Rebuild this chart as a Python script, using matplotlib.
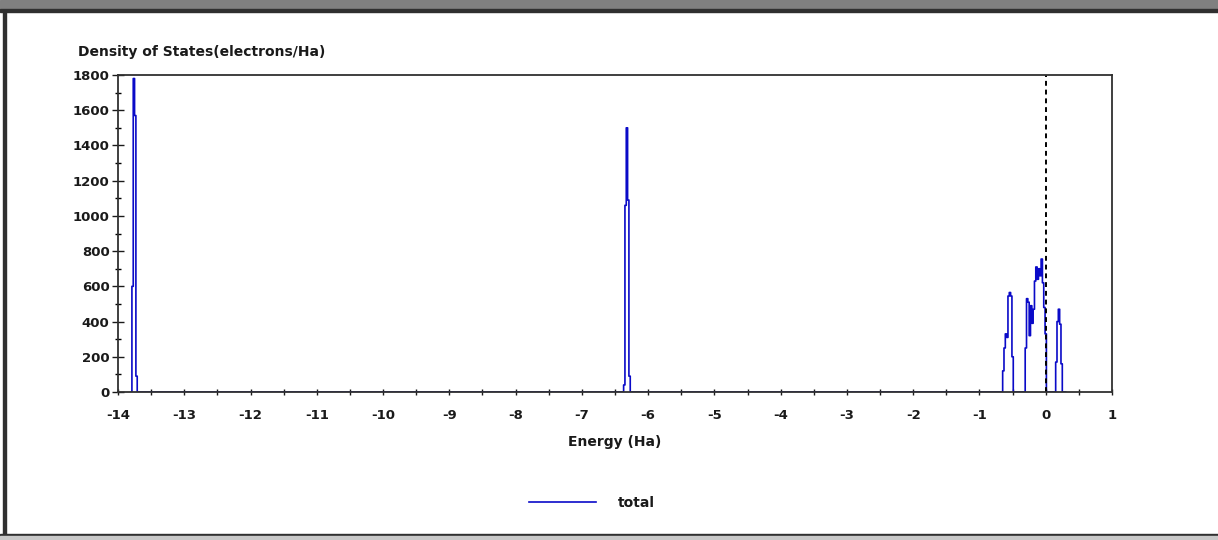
import numpy as np
import matplotlib.pyplot as plt
from matplotlib.patches import Rectangle
from matplotlib.ticker import MultipleLocator

plt.rcParams['font.family'] = ['DejaVu Sans']
plt.rcParams['axes.unicode_minus'] = False

# DOS: bins of 0.02 Ha, each segment = (first energy, values)
bin_w = 0.02
e_min, e_max = -13.80, 0.30
seg_core1 = (-13.78, [600, 1780, 1570, 90])
seg_core2 = (-6.36, [40, 1060, 1500, 1090, 90])
seg_val1 = (-0.64, [120, 250, 330, 310, 545, 565, 545, 200])
seg_val2 = (-0.30, [250, 530, 510, 320, 490, 390, 470, 630, 710, 640,
                    700, 660, 755, 620, 480, 330])
seg_cond = (0.16, [170, 400, 470, 385, 160])
segments = [seg_core1, seg_core2, seg_val1, seg_val2, seg_cond]

fermi = 0.0
x_ticks = list(range(-14, 2))
y_ticks = list(range(0, 2000, 200))

energy = np.round(np.arange(e_min, e_max + 1e-9, bin_w), 2)
dos = np.zeros_like(energy)
for start, vals in segments:
    i0 = int(round((start - e_min) / bin_w))
    dos[i0:i0 + len(vals)] = vals

fig = plt.figure(figsize=(12.18, 5.4), dpi=100)
W, H = 1218, 540
txt = '#1a1a1a'

# window frame around the chart
fig.patches.append(Rectangle((0, 1 - 10 / H), 1, 10 / H, transform=fig.transFigure,
                             color='#808080', zorder=0))
fig.patches.append(Rectangle((0, 1 - 12 / H), 1, 2.5 / H, transform=fig.transFigure,
                             color='#303030', zorder=0))
fig.patches.append(Rectangle((3 / W, 0), 2.5 / W, 1 - 10 / H, transform=fig.transFigure,
                             color='#303030', zorder=0))
fig.patches.append(Rectangle((0, 4 / H), 1, 2.5 / H, transform=fig.transFigure,
                             color='#303030', zorder=0))
fig.patches.append(Rectangle((0, 0), 1, 4 / H, transform=fig.transFigure,
                             color='#c8c8c8', zorder=0))

ax = fig.add_axes([118 / W, 1 - 392 / H, (1112 - 118) / W, (392 - 75) / H])
line, = ax.plot(energy, dos, drawstyle='steps-mid', color='#0a0ac8', lw=1.2, label='total')
ax.axvline(fermi, color='black', ls=(0, (2.5, 2)), lw=1.4)

ax.set_xlim(-14, 1)
ax.set_ylim(0, 1800)
ax.set_xticks(x_ticks)
ax.set_yticks(y_ticks)
ax.xaxis.set_minor_locator(MultipleLocator(0.5))
ax.yaxis.set_minor_locator(MultipleLocator(100))
ax.tick_params(axis='x', which='both', direction='inout', length=5, width=1,
               pad=10, labelsize=9.5, colors=txt)
ax.tick_params(axis='y', which='major', direction='inout', length=8, width=1,
               pad=2, labelsize=9.5, colors=txt)
ax.tick_params(axis='y', which='minor', direction='inout', length=5, width=1)
for lab in ax.get_xticklabels() + ax.get_yticklabels():
    lab.set_fontweight('bold')
for sp in ax.spines.values():
    sp.set_color('#303030')
    sp.set_linewidth(1.3)

ax.set_xlabel('Energy (Ha)', fontsize=10, fontweight='bold', labelpad=9, color=txt)
fig.text(78 / W, 1 - 52 / H, 'Density of States(electrons/Ha)', fontsize=10,
         fontweight='bold', ha='left', va='center', color=txt)

leg = fig.legend(handles=[line], loc='center', bbox_to_anchor=(592 / W, 1 - 503 / H),
                 frameon=False, handlelength=4.8, handletextpad=1.6,
                 prop={'size': 10, 'weight': 'bold'})
for t in leg.get_texts():
    t.set_color(txt)

fig.savefig('out.png', dpi=100)
